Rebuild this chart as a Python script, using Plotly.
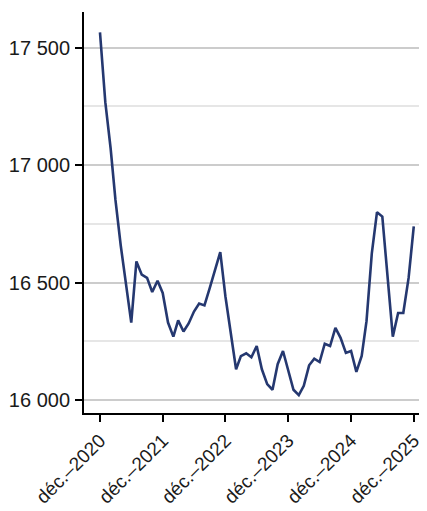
import pandas as pd
import plotly.graph_objects as go

# Monthly values, Dec 2020 -> Dec 2025
start_month = "2020-12-01"
values = [
    17565, 17268, 17071, 16852, 16657, 16484, 16330, 16590, 16534, 16520, 16460, 16508,
    16456, 16330, 16270, 16339, 16292, 16326, 16377, 16411, 16403, 16478, 16555, 16630,
    16441, 16288, 16131, 16187, 16199, 16182, 16230, 16131, 16068, 16044, 16153, 16209,
    16124, 16044, 16021, 16061, 16148, 16176, 16162, 16240, 16230, 16307, 16265, 16201,
    16209, 16120, 16188, 16336, 16626, 16800, 16781, 16541, 16270, 16371, 16371, 16520,
    16739,
]
tick_dates = ["2020-12-01", "2021-12-01", "2022-12-01", "2023-12-01", "2024-12-01", "2025-12-01"]
tick_labels = ["déc.–2020", "déc.–2021", "déc.–2022", "déc.–2023", "déc.–2024", "déc.–2025"]
y_ticks = [16000, 16500, 17000, 17500]

dates = pd.date_range(start_month, periods=len(values), freq="MS")

fig = go.Figure()
fig.add_trace(go.Scatter(
    x=dates, y=values, mode="lines",
    line=dict(color="#253870", width=2.6),
    hoverinfo="skip", showlegend=False,
))

# page body has an 8px margin, so the figure is sized to fit inside the window
fig.update_layout(
    width=419, height=503, autosize=False,
    margin=dict(l=76, r=0, t=4, b=98),
    paper_bgcolor="white", plot_bgcolor="white",
    separators=", ",
    font=dict(family="Liberation Sans, Arial, sans-serif", size=20, color="#1a1a1a"),
    xaxis=dict(
        type="date", automargin=False,
        range=["2020-08-30", "2026-02-16"],
        tickmode="array", tickvals=tick_dates, ticktext=tick_labels,
        tickangle=-45,
        showgrid=False, zeroline=False,
        showline=True, linecolor="black", linewidth=2,
        ticks="outside", ticklen=7, tickwidth=2, tickcolor="black",
        tickfont=dict(size=19),
    ),
    yaxis=dict(
        automargin=False,
        range=[15945, 17652],
        tickmode="array", tickvals=y_ticks,
        tickformat=",d",
        showgrid=True, gridcolor="#cccccc", gridwidth=1.5,
        zeroline=False,
        showline=True, linecolor="black", linewidth=2,
        ticks="outside", ticklen=7, tickwidth=2, tickcolor="black",
        ticklabelstandoff=1,
        minor=dict(dtick=250, tick0=0, showgrid=True, gridcolor="#e6e6e6", gridwidth=1.5, ticks=""),
        tickfont=dict(size=20),
    ),
)

fig.write_html("out.html")
